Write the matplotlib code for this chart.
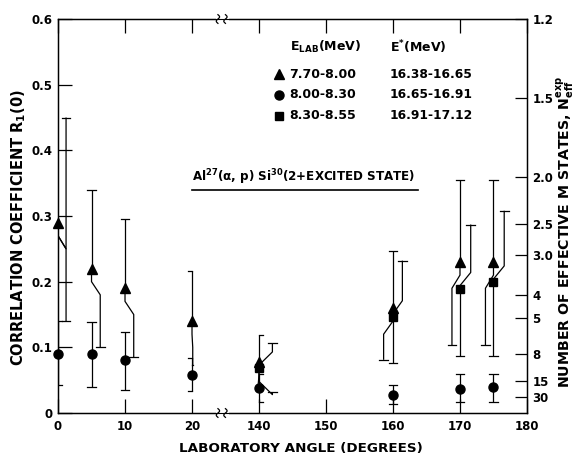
import numpy as np
import matplotlib
matplotlib.use("Agg")
import matplotlib.pyplot as plt

plt.rcParams["font.family"] = ["DejaVu Sans"]
plt.rcParams["font.weight"] = "bold"
plt.rcParams["mathtext.default"] = "bf"
plt.rcParams["mathtext.fontset"] = "dejavusans"

# ---- data: correlation coefficient R1(0) vs laboratory angle ----
angles_tri = [0, 5, 10, 20, 140, 160, 170, 175]
r_tri = [0.29, 0.22, 0.19, 0.14, 0.078, 0.16, 0.23, 0.23]
tri_hi = [0.45, 0.34, 0.295, 0.216, 0.119, 0.246, 0.355, 0.355]
tri_lo = [0.14, 0.10, 0.085, 0.073, 0.039, 0.081, 0.103, 0.103]

angles_circ = [0, 5, 10, 20, 140, 160, 170, 175]
r_circ = [0.09, 0.09, 0.08, 0.058, 0.038, 0.028, 0.037, 0.039]
circ_hi = [0.14, 0.138, 0.123, 0.084, 0.06, 0.043, 0.06, 0.06]
circ_lo = [0.042, 0.04, 0.035, 0.034, 0.016, 0.013, 0.016, 0.016]

angles_sq = [140, 160, 170, 175]
r_sq = [0.068, 0.146, 0.189, 0.199]
sq_hi = [0.106, 0.232, 0.287, 0.308]
sq_lo = [0.032, 0.076, 0.087, 0.087]

x_ticks = [0, 10, 20, 140, 150, 160, 170, 180]
y_ticks = [0, 0.1, 0.2, 0.3, 0.4, 0.5, 0.6]
y_tick_labels = ["0", "0.1", "0.2", "0.3", "0.4", "0.5", "0.6"]
n_eff_ticks = [1.2, 1.5, 2.0, 2.5, 3.0, 4, 5, 8, 15, 30]
n_eff_labels = ["1.2", "1.5", "2.0", "2.5", "3.0", "4", "5", "8", "15", "30"]
R_PER_N = 0.72  # R1(0) = 0.72 / N_eff

legend_elab = ["7.70-8.00", "8.00-8.30", "8.30-8.55"]
legend_estar = ["16.38-16.65", "16.65-16.91", "16.91-17.12"]

# horizontal offsets (degrees) used to keep overlapping error bars apart
tri_up_off = [1.2, 0, 0, 0, 0, 0, 0, 0]
tri_lo_off = [1.2, 1.3, 1.3, 1.3, -2.0, -1.4, -1.2, -1.2]
tri_up_sign = [-1, 1, 1, 1, 1, 1, 1, 1]
sq_up_off = [2.0, 1.4, 1.6, 1.6]
sq_lo_off = [2.0, 0, 0, 0]


def fwd(x):
    x = np.asarray(x, float)
    return np.where(x <= 20, x, np.where(x >= 140, x - 110, 20 + (x - 20) / 12.0))


def inv(u):
    u = np.asarray(u, float)
    return np.where(u <= 20, u, np.where(u >= 30, u + 110, 20 + (u - 20) * 12.0))


fig = plt.figure(figsize=(5.75, 4.55), dpi=100)
ax = fig.add_axes([0.1009, 0.0923, 0.8156, 0.8659])
ax.set_xscale("function", functions=(fwd, inv))
ax.set_xlim(0, 180)
ax.set_ylim(0, 0.6)

LW = 0.9
CAP = 1.3  # full cap width in degrees


def branch(x, y, end, off, sign, a=0.02, b=0.02):
    """Vertical error branch from the marker to `end`, optionally jogged sideways."""
    if off == 0:
        xs, ys = [x, x], [y, end]
    else:
        xs = [x, x, x + off, x + off]
        ys = [y, y + sign * a, y + sign * (a + b), end]
    ax.plot(xs, ys, color="black", lw=LW, solid_capstyle="butt", zorder=2)
    xe = x + off
    ax.plot([xe - CAP / 2, xe + CAP / 2], [end, end], color="black", lw=LW, zorder=2)


for i, x in enumerate(angles_circ):
    branch(x, r_circ[i], circ_hi[i], 0, 1)
    branch(x, r_circ[i], circ_lo[i], 0, -1)
for i, x in enumerate(angles_tri):
    branch(x, r_tri[i], tri_hi[i], tri_up_off[i], tri_up_sign[i])
    branch(x, r_tri[i], tri_lo[i], tri_lo_off[i], -1)
for i, x in enumerate(angles_sq):
    branch(x, r_sq[i], sq_hi[i], sq_up_off[i], 1, a=0.005)
    branch(x, r_sq[i], sq_lo[i], sq_lo_off[i], -1)

ax.plot(angles_circ, r_circ, "o", color="black", ms=6.5, zorder=3, clip_on=False)
ax.plot(angles_tri, r_tri, "^", color="black", ms=7, zorder=3, clip_on=False)
ax.plot(angles_sq, r_sq, "s", color="black", ms=5.8, zorder=3, clip_on=False)

# axes and ticks
ax.set_xticks(x_ticks)
ax.set_xticklabels([str(t) for t in x_ticks])
ax.set_yticks(y_ticks)
ax.set_yticklabels(y_tick_labels)
ax.tick_params(axis="both", direction="in", length=10, width=0.9, labelsize=8.5, pad=4)
ax.tick_params(axis="x", top=True, pad=5)
ax.minorticks_off()
for s in ax.spines.values():
    s.set_linewidth(1.0)

ax2 = ax.twinx()
ax2.set_ylim(0, 0.6)
ax2.set_yticks([R_PER_N / n for n in n_eff_ticks])
ax2.set_yticklabels(n_eff_labels)
ax2.tick_params(axis="y", direction="in", length=9, width=0.9, labelsize=8.5, pad=4)
ax2.minorticks_off()

ax.set_xlabel("LABORATORY ANGLE (DEGREES)", fontsize=9.7, fontweight="bold")
ax.xaxis.set_label_coords(0.518, -0.074)
ax.set_ylabel("CORRELATION COEFFICIENT R$_1$(0)", fontsize=10.5, fontweight="bold",
              va="center")
ax.yaxis.set_label_coords(-0.085, 0.47)
ax2.set_ylabel("NUMBER OF EFFECTIVE M STATES, N$_{eff}^{exp}$", fontsize=10.2,
               fontweight="bold", rotation=90, va="center")
ax2.yaxis.set_label_coords(1.082, 0.46)

# axis break marks on top and bottom spines
for yb in (0.0, 1.0):
    ax.add_patch(plt.Rectangle((0.336, yb - 0.006), 0.028, 0.012, transform=ax.transAxes,
                               facecolor="white", edgecolor="none", zorder=5, clip_on=False))
    t = np.linspace(-1, 1, 30)
    for xb in (0.341, 0.357):
        ax.plot(xb + 0.0035 * np.sin(np.pi * t), yb + 0.011 * t, color="black", lw=0.9,
                transform=ax.transAxes, clip_on=False, zorder=6)

# key table
tx = ax.transAxes
ax.text(0.495, 0.929, "E$_{LAB}$(MeV)", transform=tx, fontsize=9, va="center", ha="left")
ax.text(0.708, 0.929, "E$^{*}$(MeV)", transform=tx, fontsize=9, va="center", ha="left")
for marker, ms, yy, e1, e2 in zip(["^", "o", "s"], [7, 6.5, 5.8], [0.860, 0.808, 0.755],
                                  legend_elab, legend_estar):
    ax.plot([0.471], [yy], marker, color="black", ms=ms, transform=tx, clip_on=False)
    ax.text(0.492, yy, e1, transform=tx, fontsize=9, va="center", ha="left")
    ax.text(0.708, yy, e2, transform=tx, fontsize=8.8, va="center", ha="left")

ax.text(0.286, 0.598, "Al$^{27}$(α, p) Si$^{30}$(2+EXCITED STATE)", transform=tx,
        fontsize=8.6, va="center", ha="left")
ax.plot([0.286, 0.768], [0.566, 0.566], color="black", lw=1.2, transform=tx)

fig.savefig("out.png", dpi=100, facecolor="white")
